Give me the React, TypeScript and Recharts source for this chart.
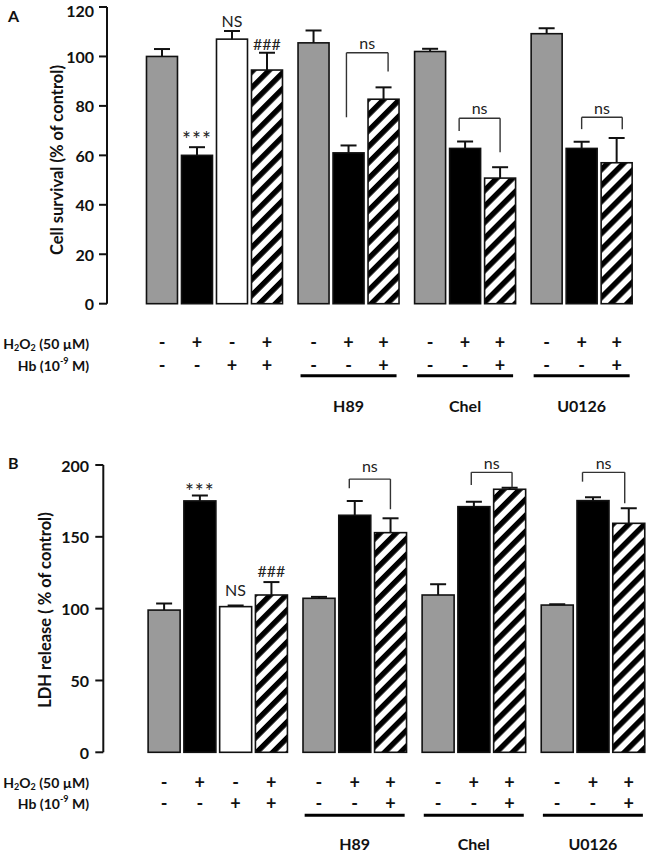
import React from 'react';
import { BarChart, Bar, XAxis, YAxis, ReferenceLine, ReferenceDot } from 'recharts';

// bar order inside each block: control, H2O2, Hb, H2O2+Hb / inhibitor blocks without Hb alone
const kinds = ['gray', 'black', 'white', 'hatch', 'gray', 'black', 'hatch', 'gray', 'black', 'hatch', 'gray', 'black', 'hatch'];
const blockSizes = [4, 3, 3, 3];
const blockNames = ['', 'H89', 'Chel', 'U0126'];
const h2o2Signs = ['-', '+', '-', '+', '-', '+', '+', '-', '+', '+', '-', '+', '+'];
const hbSigns = ['-', '-', '+', '+', '-', '-', '+', '-', '-', '+', '-', '-', '+'];

// panel A: cell survival (% of control)
const survivalMean = [100, 60, 107, 94.5, 105.5, 61, 82.7, 102, 62.8, 50.8, 109.2, 62.8, 57];
const survivalSem = [3, 3.3, 3.3, 7, 5, 3, 4.8, 1.1, 2.8, 4.4, 2.2, 2.7, 10];
const survivalTicks = [0, 20, 40, 60, 80, 100, 120];

// panel B: LDH release (% of control)
const ldhMean = [99, 175, 101.4, 109.5, 107.2, 165, 152.9, 109.5, 171, 183.1, 102.5, 175.2, 159.4];
const ldhSem = [4.6, 3.7, 0.8, 9, 1, 10, 10, 7.5, 3.5, 1, 0.5, 2.3, 10.5];
const ldhTicks = [0, 50, 100, 150, 200];

// significance marks: [bar index, y value, text]
const survivalMarks: [number, number, string][] = [[1, 66.5, '***'], [2, 114.3, 'NS'], [3, 105.1, '###']];
const ldhMarks: [number, number, string][] = [[1, 181.5, '***'], [2, 113, 'NS'], [3, 125.7, '###']];

// ns brackets: [left bar, right bar, left end y, right end y, top y, text y, left nudge, right nudge]
const survivalBrackets = [
  [5, 6, 75.4, 93.9, 101.5, 105.5, -0.06, 0.13],
  [8, 9, 69.8, 61.3, 75, 79, -0.17, 0],
  [11, 12, 70.6, 70.6, 75.4, 79, 0, 0.16],
];
const ldhBrackets = [
  [5, 6, 183.8, 169.2, 190.2, 198.8, -0.15, 0],
  [8, 9, 186, 184.5, 194.9, 201.4, -0.07, 0.07],
  [11, 12, 188.4, 173.3, 194.9, 201.4, -0.29, -0.11],
];

const BLOCK_GAP = 0.33;
const FONT = 'Lato, "Open Sans", sans-serif';

const positions: number[] = [];
const middleOfBlock: Record<number, string> = {};
{
  let i = 0;
  blockSizes.forEach((n, b) => {
    for (let j = 0; j < n; j++) {
      positions.push(i + b * BLOCK_GAP);
      if (b > 0 && j === 1) middleOfBlock[i] = blockNames[b];
      i++;
    }
  });
}

const fillFor = (kind: string, hatchId: string) =>
  kind === 'gray' ? '#9a9a9a' : kind === 'black' ? '#000' : kind === 'white' ? '#fff' : `url(#${hatchId})`;

const makeBarShape = (hatchId: string, cap: number) => (props: any) => {
  const { x, y, width, height, payload } = props;
  const k = height / payload.value;
  const top = y - payload.err * k;
  const cx = x + width / 2;
  return (
    <g>
      <rect x={x} y={y} width={width} height={height} fill={fillFor(payload.kind, hatchId)} stroke="#111" strokeWidth={1.6} />
      <line x1={cx} x2={cx} y1={y} y2={top} stroke="#111" strokeWidth={2} />
      <line x1={cx - cap} x2={cx + cap} y1={top} y2={top} stroke="#111" strokeWidth={2} />
    </g>
  );
};

const makeTick = (rows: number[], halfLine: number) => (props: any) => {
  const { x, y, index } = props;
  const name = middleOfBlock[index];
  const st = { fontFamily: FONT, fontWeight: 700, fontSize: 18, fill: '#111' };
  return (
    <g>
      <text x={x} y={y + rows[0]} textAnchor="middle" dominantBaseline="central" style={st}>{h2o2Signs[index]}</text>
      <text x={x} y={y + rows[1]} textAnchor="middle" dominantBaseline="central" style={st}>{hbSigns[index]}</text>
      {name && (
        <g>
          <line x1={x - halfLine} x2={x + halfLine} y1={y + rows[2]} y2={y + rows[2]} stroke="#000" strokeWidth={3} />
          <text x={x} y={y + rows[3]} textAnchor="middle" dominantBaseline="central" style={{ ...st, fontSize: 16 }}>{name}</text>
        </g>
      )}
    </g>
  );
};

// y tick value, kept clear of the top edge of the picture
const YTick = (props: any) => {
  const { x, y, payload } = props;
  return (
    <text
      x={x}
      y={Math.max(y, 10)}
      textAnchor="end"
      dominantBaseline="central"
      style={{ fill: '#111', fontSize: 16, fontWeight: 700, fontFamily: FONT }}
    >
      {payload.value}
    </text>
  );
};

type PanelProps = {
  id: string;
  mean: number[];
  sem: number[];
  ticks: number[];
  marks: [number, number, string][];
  brackets: number[][];
  height: number;
  margin: { top: number; right: number; bottom: number; left: number };
  xDomain: [number, number];
  axisWidth: number;
  tickMargin: number;
  xAxisHeight: number;
  rows: number[];
  halfLine: number;
  barSize: number;
};

const Panel = (p: PanelProps) => {
  const data = positions.map((pos, i) => ({ pos, value: p.mean[i], err: p.sem[i], kind: kinds[i] }));
  const hatchId = `hatch-${p.id}`;
  const textStyle = { fontFamily: FONT, fontSize: 16, fill: '#222' };
  return (
    <BarChart width={649} height={p.height} data={data} margin={p.margin}>
      <defs>
        <pattern id={hatchId} patternUnits="userSpaceOnUse" width={11.3} height={11.3} patternTransform="rotate(45)">
          <rect width={11.3} height={11.3} fill="#fff" />
          <rect width={5.4} height={11.3} fill="#000" />
        </pattern>
      </defs>
      <XAxis
        dataKey="pos"
        type="number"
        domain={p.xDomain}
        allowDataOverflow
        ticks={positions}
        interval={0}
        axisLine={false}
        tickLine={false}
        tickSize={0}
        tickMargin={0}
        height={p.xAxisHeight}
        tick={makeTick(p.rows, p.halfLine)}
      />
      <YAxis
        domain={[p.ticks[0], p.ticks[p.ticks.length - 1]]}
        ticks={p.ticks}
        interval={0}
        width={p.axisWidth}
        tickSize={8}
        tickMargin={p.tickMargin}
        axisLine={{ stroke: '#111', strokeWidth: 2 }}
        tickLine={{ stroke: '#111', strokeWidth: 2 }}
        tick={YTick}
      />
      <Bar dataKey="value" barSize={p.barSize} shape={makeBarShape(hatchId, 8)} isAnimationActive={false} />
      {p.brackets.map(([a, b, ya, yb, top, ty, na, nb], i) => {
        const xa = positions[a] + na;
        const xb = positions[b] + nb;
        return (
          <React.Fragment key={`br${i}`}>
            <ReferenceLine segment={[{ x: xa, y: ya }, { x: xa, y: top }]} stroke="#333" strokeWidth={1.4} ifOverflow="visible" />
            <ReferenceLine segment={[{ x: xa, y: top }, { x: xb, y: top }]} stroke="#333" strokeWidth={1.4} ifOverflow="visible" />
            <ReferenceLine segment={[{ x: xb, y: top }, { x: xb, y: yb }]} stroke="#333" strokeWidth={1.4} ifOverflow="visible" />
            <ReferenceDot
              x={(xa + xb) / 2}
              y={ty}
              r={1}
              fill="none"
              stroke="none"
              ifOverflow="visible"
              label={{ value: 'ns', position: 'center', ...textStyle }}
            />
          </React.Fragment>
        );
      })}
      {p.marks.map(([i, y, t]) => (
        <ReferenceDot
          key={`m${i}`}
          x={positions[i]}
          y={y}
          r={1}
          fill="none"
          stroke="none"
          ifOverflow="visible"
          label={{
            value: t,
            position: 'center',
            ...textStyle,
            fontSize: t === '***' ? 21 : 16,
            letterSpacing: t === '***' ? 1 : 0,
          }}
        />
      ))}
    </BarChart>
  );
};

const RowLabels = ({ y1, y2, right }: { y1: number; y2: number; right: number }) => {
  const st = { fontFamily: FONT, fontWeight: 700, fontSize: 14, fill: '#111' };
  return (
    <g>
      <text x={right} y={y1} textAnchor="end" dominantBaseline="central" style={st}>
        H<tspan fontSize={9} dy={4}>2</tspan>
        <tspan dy={-4}>O</tspan>
        <tspan fontSize={9} dy={4}>2</tspan>
        <tspan dy={-4}> (50 µM)</tspan>
      </text>
      <text x={right} y={y2} textAnchor="end" dominantBaseline="central" style={st}>
        Hb (10<tspan fontSize={9} dy={-5}>-9</tspan>
        <tspan dy={5}> M)</tspan>
      </text>
    </g>
  );
};

export default function App() {
  const titleStyle = { fontFamily: FONT, fontWeight: 700, fontSize: 16.5, fill: '#111' };
  return (
    <div style={{ position: 'absolute', top: 0, left: 0, width: 649, height: 853, background: '#fff' }}>
      <div style={{ position: 'absolute', top: 0, left: 0 }}>
        <Panel
          id="a"
          mean={survivalMean}
          sem={survivalSem}
          ticks={survivalTicks}
          marks={survivalMarks}
          brackets={survivalBrackets}
          height={430}
          margin={{ top: 7, right: 14.5, bottom: 15.3, left: 0 }}
          xDomain={[-1.571, 13.5]}
          axisWidth={107}
          tickMargin={5}
          xAxisHeight={111}
          rows={[38, 61, 72, 102]}
          halfLine={48}
          barSize={31}
        />
      </div>
      <div style={{ position: 'absolute', top: 430, left: 0 }}>
        <Panel
          id="b"
          mean={ldhMean}
          sem={ldhSem}
          ticks={ldhTicks}
          marks={ldhMarks}
          brackets={ldhBrackets}
          height={423}
          margin={{ top: 35, right: 2.1, bottom: 5.7, left: 0 }}
          xDomain={[-1.697, 13.5]}
          axisWidth={103.3}
          tickMargin={6.3}
          xAxisHeight={95}
          rows={[30, 51, 63, 91]}
          halfLine={50}
          barSize={32}
        />
      </div>
      <svg width={649} height={853} style={{ position: 'absolute', top: 0, left: 0, pointerEvents: 'none' }}>
        <text x={8} y={15} dominantBaseline="central" style={{ ...titleStyle, fontSize: 16 }}>A</text>
        <text x={8} y={462} dominantBaseline="central" style={{ ...titleStyle, fontSize: 16 }}>B</text>
        <text transform="translate(57,160) rotate(-90)" textAnchor="middle" dominantBaseline="central" style={titleStyle}>
          Cell survival (% of control)
        </text>
        <text transform="translate(45,610) rotate(-90)" textAnchor="middle" dominantBaseline="central" style={titleStyle}>
          LDH release ( % of control)
        </text>
        <RowLabels y1={343} y2={365} right={89} />
        <RowLabels y1={782} y2={803} right={89} />
      </svg>
    </div>
  );
}
